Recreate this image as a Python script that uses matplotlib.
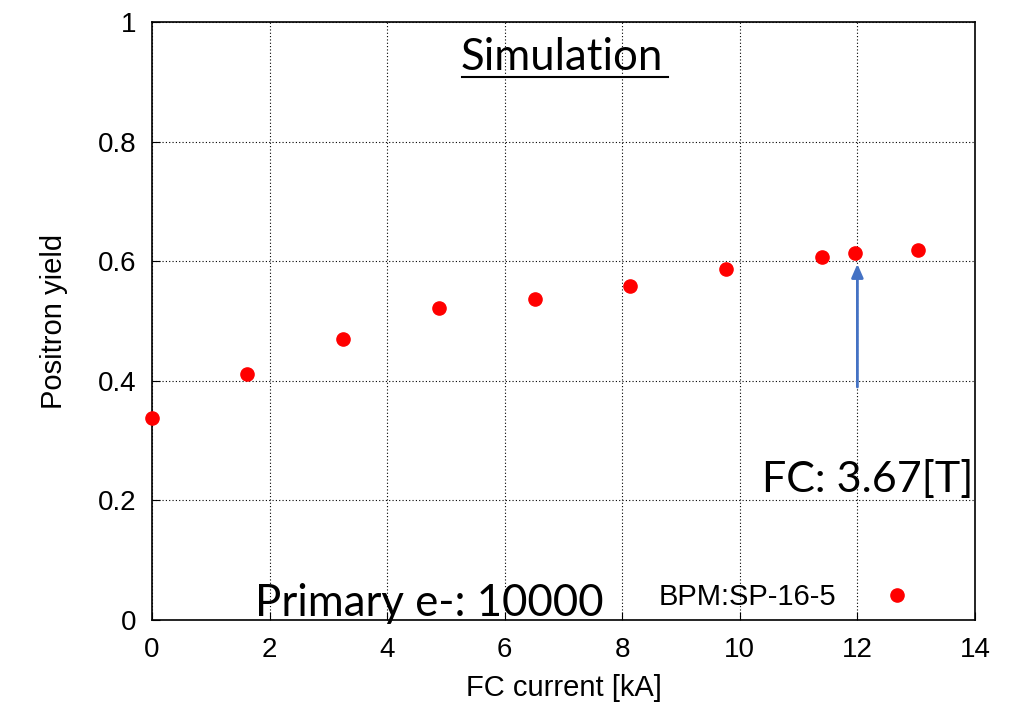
import numpy as np
import matplotlib
matplotlib.use("Agg")
import matplotlib.pyplot as plt
from matplotlib.lines import Line2D

# FC current [kA] vs positron yield (simulation)
fc_current = [0.0, 1.61, 3.25, 4.88, 6.52, 8.14, 9.77, 11.4, 11.96, 13.03]
yield_vals = [0.338, 0.411, 0.470, 0.522, 0.537, 0.559, 0.587, 0.607, 0.614, 0.619]
series_name = "BPM:SP-16-5"
xticks = [0, 2, 4, 6, 8, 10, 12, 14]
yticks = [0, 0.2, 0.4, 0.6, 0.8, 1]
ytick_labels = ["0", "0.2", "0.4", "0.6", "0.8", "1"]

plt.rcParams['font.family'] = ['Liberation Sans', 'DejaVu Sans']

fig = plt.figure(figsize=(10.1, 7.14), dpi=100)
ax = fig.add_axes([0.1505, 0.1317, 0.8148, 0.8375])

ax.plot(fc_current, yield_vals, 'o', color='red', markersize=9.5,
        label=series_name, zorder=5, clip_on=False)

ax.set_xlim(0, 14)
ax.set_ylim(0, 1)
ax.set_xticks(xticks)
ax.set_yticks(yticks)
ax.set_yticklabels(ytick_labels)
ax.tick_params(labelsize=20, direction='in', length=6)
ax.tick_params(axis='y', pad=11)
ax.tick_params(axis='x', pad=12)
ax.grid(True, color='black', linestyle=(0, (1, 2)), linewidth=0.8)
for s in ax.spines.values():
    s.set_linewidth(1.2)

ax.set_xlabel("FC current [kA]", fontsize=21, labelpad=8)
ax.set_ylabel("Positron yield", fontsize=21, labelpad=22)

leg = ax.legend(loc='center right', frameon=False, markerfirst=False,
                fontsize=21, bbox_to_anchor=(0.9287, 0.1639),
                bbox_transform=fig.transFigure, borderaxespad=0,
                handletextpad=1.1)

# annotation texts (Calibri-like)
cal = ['Lato', 'DejaVu Sans']
ax.text(5.25, 0.92, "Simulation", fontsize=31.5, family=cal,
        ha='left', va='baseline')
fig.add_artist(Line2D([462 / 1010, 668 / 1010], [1 - 77 / 714, 1 - 77 / 714],
                      color='black', linewidth=1.5))
ax.text(1.75, 0.006, "Primary e-: 10000", fontsize=31.5, family=cal,
        ha='left', va='baseline')
ax.text(13.98, 0.214, "FC: 3.67[T]", fontsize=31, family=cal,
        ha='right', va='baseline')

ax.annotate("", xy=(12, 0.60), xytext=(12, 0.385),
            arrowprops=dict(arrowstyle='-|>,head_width=0.35,head_length=0.8',
                            color='#4472C4', lw=2))

fig.savefig("out.png", dpi=100)
